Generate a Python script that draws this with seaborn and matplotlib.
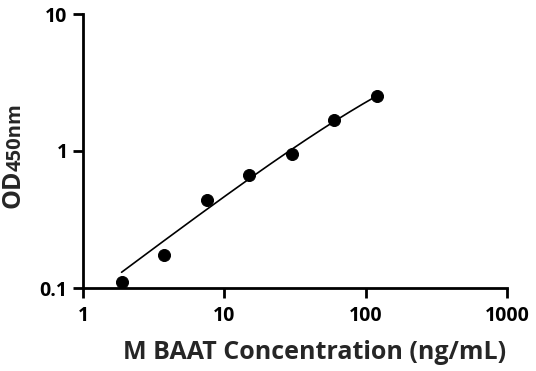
import numpy as np
import pandas as pd
import matplotlib
matplotlib.use("Agg")
import matplotlib.pyplot as plt
import seaborn as sns

conc = [1.875, 3.75, 7.5, 15, 30, 60, 120]
od = [0.111, 0.174, 0.439, 0.668, 0.95, 1.68, 2.52]
x_ticks = [1, 10, 100, 1000]
x_tick_labels = ["1", "10", "100", "1000"]
y_ticks = [0.1, 1, 10]
y_tick_labels = ["0.1", "1", "10"]

sns.set_theme(style="ticks")
plt.rcParams['font.family'] = ['Open Sans', 'DejaVu Sans']

df = pd.DataFrame({"conc": conc, "od": od})

# logistic fit with bottom fixed at 0 (unweighted, linear OD space), grid search
xv = df["conc"].values
yv = df["od"].values
best = None
for b in np.linspace(0.3, 2.0, 171):
    for c in np.logspace(0, 5, 501):
        f = 1.0 / (1.0 + (c / xv) ** b)
        d = np.dot(f, yv) / np.dot(f, f)
        r = np.sum((d * f - yv) ** 2)
        if best is None or r < best[0]:
            best = (r, b, c, d)
_, b, c, d = best
xf = np.logspace(np.log10(xv.min()), np.log10(xv.max()), 200)
fit = pd.DataFrame({"conc": xf, "od": d / (1.0 + (c / xf) ** b)})

fig = plt.figure(figsize=(5.36, 3.71), dpi=100)
ax = fig.add_axes([83/536, 1-288/371, (507-83)/536, (288-14)/371])

sns.lineplot(data=fit, x="conc", y="od", ax=ax, color="black", linewidth=1.2)
sns.scatterplot(data=df, x="conc", y="od", ax=ax, color="black", s=75, edgecolor="black", zorder=3)

ax.set_xscale("log")
ax.set_yscale("log")
ax.set_xlim(1, 1000)
ax.set_ylim(0.1, 10)
ax.set_xticks(x_ticks)
ax.set_xticklabels(x_tick_labels)
ax.set_yticks(y_ticks)
ax.set_yticklabels(y_tick_labels)
ax.minorticks_off()
for s in ["top", "right"]:
    ax.spines[s].set_visible(False)
for s in ["left", "bottom"]:
    ax.spines[s].set_linewidth(2)
    ax.spines[s].set_color("black")
ax.tick_params(axis="both", which="major", length=7, width=2, color="black",
               labelsize=14, labelcolor="black")
ax.tick_params(axis="x", pad=6)
ax.tick_params(axis="y", pad=4)
for lab in ax.get_xticklabels() + ax.get_yticklabels():
    lab.set_fontweight("bold")

ax.set_xlabel("M BAAT Concentration (ng/mL)", fontsize=18, fontweight="bold")
ax.xaxis.set_label_coords(0.545, -0.19)
ax.set_ylabel("")
fig.text(26/536, 1-208/371, "OD", rotation=90, fontsize=18, fontweight="bold",
         ha="right", va="bottom")
fig.text(26/536, 1-171/371, "450nm", rotation=90, fontsize=14.5, fontweight="bold",
         ha="right", va="bottom")

fig.savefig("out.png", dpi=100)
